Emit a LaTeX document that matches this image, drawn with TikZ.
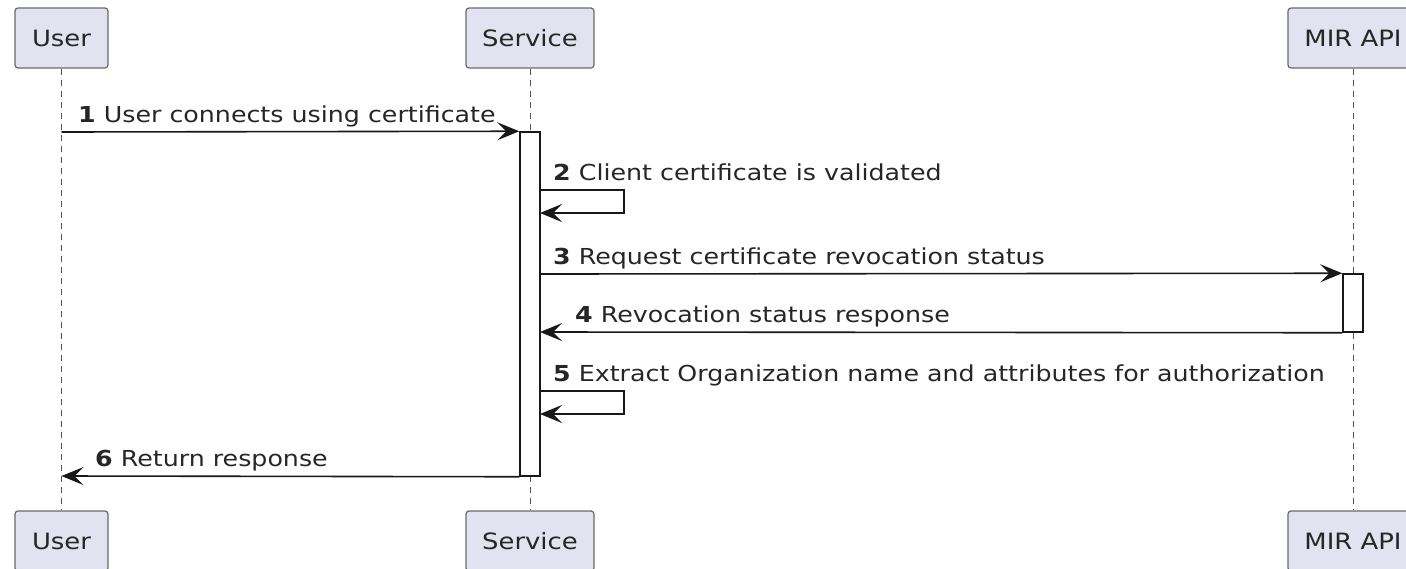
\documentclass[tikz,border=0pt]{standalone}
\usepackage{fontspec}
\setmainfont{DejaVu Sans}
\newfontfamily\diagfont[FakeStretch=1.15]{DejaVu Sans}
\usetikzlibrary{arrows.meta}
\definecolor{partfill}{HTML}{E2E2F0}
\definecolor{partline}{HTML}{181818}
\definecolor{lifeline}{HTML}{555555}
\begin{document}
\begin{tikzpicture}[x=1pt,y=-1pt,
  participant/.style={draw=partline!65,fill=partfill,rounded corners=3pt,line width=1.2pt,
    minimum height=60pt,inner sep=0pt,text=black!85,
    font=\diagfont\fontsize{22.5}{25}\selectfont},
  life/.style={draw=lifeline,dash pattern=on 6pt off 5pt,line width=1pt},
  activation/.style={draw=partline,fill=white,line width=1.5pt,minimum width=20pt,inner sep=0pt},
  msg/.style={draw=partline,line width=1.6pt,
    -{Stealth[length=22pt,width=18pt,inset=9pt]}},
  msglabel/.style={anchor=base west,inner sep=0pt,text=black!85,
    font=\diagfont\fontsize{22}{25}\selectfont},
]
\useasboundingbox (0,0) rectangle (1406,568);

% participants, top and bottom
\node[participant,minimum width=93pt]  (userT) at (61.5,38) {User};
\node[participant,minimum width=128pt] (servT) at (530,38) {Service};
\node[participant,minimum width=130pt] (mirT)  at (1353,38) {MIR API};
\node[participant,minimum width=93pt]  (userB) at (61.5,541) {User};
\node[participant,minimum width=128pt] (servB) at (530,541) {Service};
\node[participant,minimum width=130pt] (mirB)  at (1353,541) {MIR API};

% lifelines
\draw[life] (userT.south) -- (userB.north);
\draw[life] (servT.south) -- (servB.north);
\draw[life] (mirT.south) -- (mirB.north);

% activation bars
\node[activation,minimum height=344pt] (servAct) at (530,304) {};
\node[activation,minimum height=58pt]  (mirAct)  at (1353,303) {};

% 1
\coordinate (u1) at (61.5,132);
\draw[msg] (u1) -- (servAct.north west);
\node[msglabel] at (78,122) {\textbf{1} User connects using certificate};

% 2 (self call)
\coordinate (s2a) at (540,190);
\coordinate (s2b) at (624,190);
\coordinate (s2c) at (624,213);
\coordinate (s2d) at (540,213);
\draw[msg] (s2a) -- (s2b) -- (s2c) -- (s2d);
\node[msglabel] at (553,180) {\textbf{2} Client certificate is validated};

% 3
\coordinate (s3) at (540,274);
\draw[msg] (s3) -- (mirAct.north west);
\node[msglabel] at (553,264) {\textbf{3} Request certificate revocation status};

% 4
\coordinate (s4) at (540,332);
\draw[msg] (mirAct.south west) -- (s4);
\node[msglabel] at (575,322) {\textbf{4} Revocation status response};

% 5 (self call)
\coordinate (s5a) at (540,391);
\coordinate (s5b) at (624,391);
\coordinate (s5c) at (624,414);
\coordinate (s5d) at (540,414);
\draw[msg] (s5a) -- (s5b) -- (s5c) -- (s5d);
\node[msglabel] at (553,381) {\textbf{5} Extract Organization name and attributes for authorization};

% 6
\coordinate (u6) at (61.5,476);
\draw[msg] (servAct.south west) -- (u6);
\node[msglabel] at (95,466) {\textbf{6} Return response};
\end{tikzpicture}
\end{document}
